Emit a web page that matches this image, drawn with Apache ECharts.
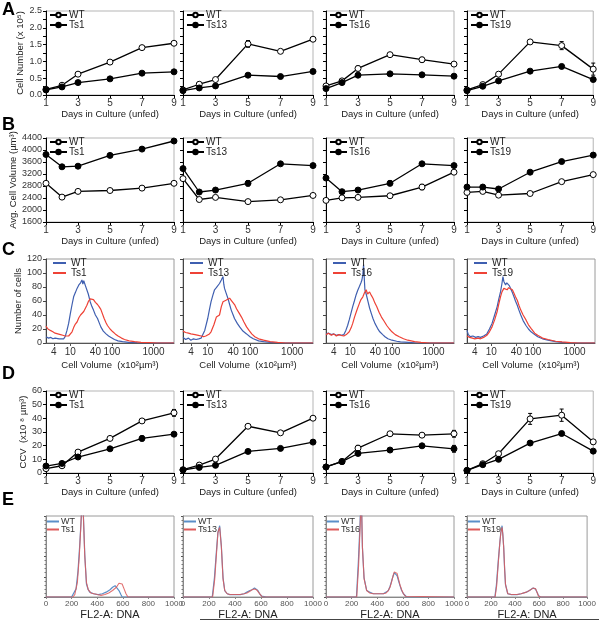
<!DOCTYPE html>
<html><head><meta charset="utf-8">
<script src="https://cdn.jsdelivr.net/npm/echarts@6/dist/echarts.min.js"></script>
<style>html,body{margin:0;padding:0;background:#fff}#c{width:599px;height:621px}</style>
</head><body><div id="c"></div>
<script>
// ---------- data ----------
const days = [1, 2, 3, 5, 7, 9];
const mutants = ['Ts1', 'Ts13', 'Ts16', 'Ts19'];
const dayTicks = [1, 3, 5, 7, 9];
const volumeTicks = [4, 10, 40, 100, 1000];

// A: cell number (x10^5)
const cellNumberWT = [
  [0.17, 0.29, 0.62, 0.98, 1.41, 1.54],
  [0.15, 0.32, 0.46, 1.52, 1.30, 1.66],
  [0.27, 0.42, 0.79, 1.20, 1.05, 0.92],
  [0.15, 0.31, 0.62, 1.58, 1.47, 0.77]];
const cellNumberTs = [
  [0.15, 0.24, 0.37, 0.48, 0.65, 0.69],
  [0.13, 0.21, 0.27, 0.59, 0.55, 0.70],
  [0.19, 0.37, 0.59, 0.63, 0.60, 0.56],
  [0.13, 0.26, 0.42, 0.71, 0.85, 0.46]];
const cellNumberErrWT = [[0,0,0,0.03,0.04,0.05],[0,0,0,0.10,0.03,0.06],[0,0,0.07,0.03,0.07,0.05],[0,0,0,0.03,0.12,0.18]];
const cellNumberErrTs = [[0,0,0,0,0.02,0.02],[0,0,0,0.03,0.03,0],[0,0,0,0,0,0],[0,0,0,0.03,0.03,0.02]];

// B: average cell volume (um^3)
const cellVolumeWT = [
  [2890, 2430, 2620, 2650, 2730, 2890],
  [3045, 2350, 2420, 2280, 2340, 2485],
  [2320, 2405, 2420, 2475, 2765, 3260],
  [2585, 2620, 2495, 2550, 2945, 3180]];
const cellVolumeTs = [
  [3850, 3440, 3460, 3820, 4030, 4300],
  [3380, 2600, 2665, 2890, 3540, 3480],
  [3065, 2610, 2665, 2890, 3540, 3480],
  [2765, 2765, 2700, 3260, 3615, 3830]];
const cellVolumeErrWT = [[0,0,0,0,0,50],[0,0,0,0,0,0],[0,0,0,0,90,60],[0,0,0,0,0,0]];
const cellVolumeErrTs = [[0,0,0,0,0,50],[0,0,0,90,0,0],[0,0,0,80,0,0],[0,0,0,0,0,0]];

// C: cell volume histograms [volume x10^2 um^3, number of cells]
const volHistWT = [
  [[2.6,9],[3,7],[3.4,8],[3.8,6],[4.3,7],[4.8,5],[5.4,6],[6,5],[6.9,6],[7.5,9],[8.3,18],[9.1,28],[10,42],[11,55],[12,66],[13.2,72],[14.5,78],[16,83],[17.6,86],[19,90],[20,84],[21,89],[23,82],[25,80],[27,70],[30,59],[33,52],[36,47],[40,40],[45,35],[50,28],[54,23],[62,17],[72,13],[83,10],[95,8],[115,5],[140,3],[180,2],[250,1],[400,0.5],[700,0],[3100,0]],
  [[2.6,8],[3,5],[3.5,7],[4,4],[4.6,6],[5.3,5],[6.1,6],[7,7],[7.5,8],[8.5,18],[10,35],[11,48],[12,59],[13.2,68],[14.5,76],[16,79],[17.6,81],[19,85],[21,90],[22,88],[23,95],[24,84],[25,78],[27,72],[30,64],[33,55],[36,47],[40,40],[43,35],[50,28],[57,23],[68,17],[83,13],[100,9],[120,6],[160,3],[210,2],[300,1],[500,0],[3100,0]],
  [[2.6,13],[3,14],[3.5,12],[4,13],[4.6,11],[5.3,12],[6,11],[6.5,10],[7,12],[7.8,18],[8.6,25],[9.4,33],[10.3,42],[11.4,52],[12.5,60],[13.8,69],[15,75],[16.6,81],[18,86],[19,90],[20,98],[20.8,112],[21.5,95],[22.4,76],[24,70],[26.6,59],[29,50],[32,42],[35,35],[39,28],[45,21],[51,16],[60,12],[68,9],[80,6],[100,4],[130,2.5],[160,1.5],[250,1],[400,0],[3100,0]],
  [[2.6,18],[2.8,12],[3.1,9],[3.6,10],[4.2,8],[4.8,9],[5.5,8],[6.5,10],[7.8,13],[9,20],[10.4,28],[12,40],[13.8,52],[15,62],[16.6,73],[18,85],[19,95],[20,88],[22,83],[23.5,86],[25,88],[27,82],[29,78],[32,72],[35,66],[38,60],[42,54],[46,47],[51,40],[58,32],[68,25],[78,20],[90,16],[110,12],[130,9],[170,6],[230,4],[350,2],[500,1],[800,0],[3100,0]]];
const volHistTs = [
  [[2.6,24],[2.9,20],[3.3,18],[3.8,16],[4.3,14],[5,13],[5.8,12],[6.6,11],[7.5,10],[8.3,9],[9.1,10],[10,11],[11,16],[12,22],[13.2,27],[14.5,30],[16,36],[17.6,40],[19,42],[21,45],[23,46],[25,54],[27,59],[30,63],[33,61],[36,62],[40,58],[45,55],[49,52],[54,48],[59,47],[65,35],[72,29],[78,25],[90,20],[105,16],[120,13],[140,10],[170,7],[200,5],[260,3],[350,2],[500,1],[800,0.5],[1200,0],[3100,0]],
  [[2.6,17],[3,15],[3.5,14],[4,13],[5,12],[6,11],[7,10],[8,9],[9,10],[10,11],[11,13],[12,16],[14,26],[16,37],[17.6,38],[19,40],[21,52],[23,59],[25,58],[27,61],[30,62],[33,64],[36,61],[40,59],[44,54],[48,49],[55,43],[63,37],[72,30],[83,23],[95,18],[110,13],[130,9],[160,6],[210,4],[300,2],[450,1],[700,0],[3100,0]],
  [[2.6,12],[3,14],[3.5,11],[4,13],[4.6,10],[5.3,12],[6,11],[7,10],[8,12],[9.4,16],[10.5,22],[11.4,28],[12.6,37],[14,45],[15,50],[16.6,57],[18,62],[20,66],[22,72],[24,76],[26,70],[29,73],[32,68],[35,64],[39,57],[43,52],[49,44],[56,37],[65,31],[75,25],[87,20],[100,16],[120,12],[150,9],[190,6],[240,4],[350,2],[500,1],[800,0],[3100,0]],
  [[2.6,10],[3,8],[3.5,7],[4,6],[4.8,7],[5.5,6],[6.5,8],[7.8,11],[9,16],[10.4,23],[12,33],[13.8,45],[15,55],[16.6,66],[18,73],[20,78],[22,77],[24,76],[26,79],[29,81],[32,76],[35,71],[38,66],[42,61],[46,54],[51,47],[58,40],[68,33],[78,26],[90,21],[110,14],[130,11],[170,7],[230,5],[350,2.5],[500,1.5],[800,0.5],[1200,0],[3100,0]]];

// D: CCV (x10^8 um^3)
const ccvWT = [
  [3.2, 5.3, 15.3, 25.3, 38.1, 44.0],
  [2.4, 5.8, 10.2, 34.2, 29.4, 40.1],
  [4.4, 8.5, 18.2, 28.7, 27.7, 28.7],
  [1.9, 6.8, 14.1, 39.6, 42.3, 22.8]];
const ccvTs = [
  [5.1, 7.0, 11.7, 17.7, 25.3, 28.4],
  [2.2, 4.1, 5.6, 15.8, 18.0, 22.6],
  [4.4, 8.3, 14.3, 16.8, 19.9, 17.7],
  [1.9, 6.1, 10.0, 21.9, 28.9, 16.0]];
const ccvErrWT = [[0,0,0,0,0,2.5],[0,0,0,0,0,0],[0,0,2.0,0,0,2.5],[0,0,0,4.0,4.5,1.5]];
const ccvErrTs = [[0,0,0,0,1.8,0],[0,0,0,0,0,0],[0,0,0,0,0,2.5],[0,0,0,1.5,1.5,0]];

// E: DNA content histograms [FL2-A, count]
const dnaHistWT = [
  [[0,0],[200,0],[215,2],[235,10],[250,32],[263,63],[276,99],[284,125],[290,110],[303,52],[316,16],[330,9],[342,6],[370,4],[408,3],[440,4],[470,6],[500,9],[520,12],[540,14],[555,12],[570,8],[585,3],[595,0],[1000,0]],
  [[0,0],[225,0],[242,24],[255,52],[268,79],[282,88],[295,63],[308,24],[321,8],[340,4],[360,3],[400,3],[440,3],[470,4],[492,6],[515,8],[531,9],[550,11],[565,10],[576,8],[590,4],[605,1],[640,0],[1000,0]],
  [[0,0],[238,0],[253,44],[266,91],[272,120],[278,110],[284,63],[297,24],[318,8],[340,6],[370,4],[410,4],[448,4],[470,6],[487,8],[500,13],[513,20],[525,26],[534,30],[547,29],[556,26],[565,21],[578,14],[591,8],[605,4],[617,2],[630,0],[1000,0]],
  [[0,0],[232,0],[245,15],[260,44],[272,65],[281,79],[292,88],[298,78],[305,63],[313,35],[320,16],[339,4],[370,3],[417,3],[450,4],[495,6],[520,8],[534,10],[550,11],[560,12],[570,10],[578,8],[586,5],[594,2],[612,0],[1000,0]]];
const dnaHistTs = [
  [[0,0],[210,0],[225,3],[245,18],[260,50],[273,90],[282,125],[292,100],[303,50],[316,18],[330,9],[350,5],[400,3],[430,2],[460,3],[490,5],[520,8],[550,12],[570,17],[580,19],[595,16],[610,10],[625,4],[640,0],[1000,0]],
  [[0,0],[228,0],[244,22],[256,50],[269,80],[282,86],[295,62],[308,22],[321,8],[340,4],[360,3],[400,3],[440,3],[470,4],[492,5],[515,7],[531,9],[548,10],[565,9],[580,7],[595,3],[610,0],[1000,0]],
  [[0,0],[240,0],[255,40],[267,88],[273,118],[279,105],[285,60],[298,22],[318,8],[340,5],[370,4],[410,4],[448,4],[470,5],[487,8],[500,12],[513,19],[525,27],[534,31],[547,32],[556,29],[565,23],[578,15],[591,9],[605,4],[620,1],[635,0],[1000,0]],
  [[0,0],[234,0],[247,14],[261,43],[273,66],[282,80],[292,86],[298,77],[306,60],[314,33],[321,15],[340,4],[370,3],[417,3],[450,4],[495,6],[520,8],[534,10],[550,11],[562,12],[572,10],[580,7],[588,4],[596,1],[615,0],[1000,0]]];

// ---------- layout & build ----------
const FONT = '"Liberation Sans",Arial,sans-serif';
const colLeft = [46, 183, 326, 467], colW = [128, 130, 128, 128];
const rowTop = [11, 138, 259, 391, 516], rowH = [84, 84, 84, 82, 84];
const grid = [], xAxis = [], yAxis = [], series = [], legend = [];

const lineRows = {
  0: {wt: cellNumberWT, ts: cellNumberTs, ewt: cellNumberErrWT, ets: cellNumberErrTs, min: 0, max: 2.5, interval: 0.5, minor: true, fmt: v => v.toFixed(1), name: 'Cell Number (x 10\u2075)', gap: 17},
  1: {wt: cellVolumeWT, ts: cellVolumeTs, ewt: cellVolumeErrWT, ets: cellVolumeErrTs, min: 1600, max: 4400, interval: 400, minor: false, fmt: v => String(v), name: 'Avg. Cell Volume (\u00b5m\u00b3)', gap: 25},
  3: {wt: ccvWT, ts: ccvTs, ewt: ccvErrWT, ets: ccvErrTs, min: 0, max: 60, interval: 10, minor: false, fmt: v => String(v), name: 'CCV  (x10 \u2078 \u00b5m\u00b3)', gap: 17}
};

function errItem(params, api) {
  const x = api.value(0), y = api.value(1), e = api.value(2);
  const a = api.coord([x, y + e]), b = api.coord([x, y - e]);
  const st = {stroke: '#000', lineWidth: 1};
  return {type: 'group', children: [
    {type: 'line', shape: {x1: a[0], y1: a[1], x2: b[0], y2: b[1]}, style: st},
    {type: 'line', shape: {x1: a[0] - 2, y1: a[1], x2: a[0] + 2, y2: a[1]}, style: st},
    {type: 'line', shape: {x1: b[0] - 2, y1: b[1], x2: b[0] + 2, y2: b[1]}, style: st}]};
}

const tickLbl = {fontFamily: FONT, fontSize: 10, color: '#333'};
const nameSt = {fontFamily: FONT, fontSize: 9.5, color: '#222'};

for (let r = 0; r < 5; r++) {
  for (let c = 0; c < 4; c++) {
    const gi = grid.length, key = '|' + r + '-' + c;
    grid.push({left: colLeft[c], top: rowTop[r], width: colW[c], height: rowH[r],
      show: true, borderColor: r >= 2 && r !== 3 ? '#9a9a9a' : '#b5b5b5', borderWidth: 1, containLabel: false});
    const wtName = 'WT' + key, tsName = mutants[c] + key;
    if (lineRows[r]) {
      const L = lineRows[r];
      xAxis.push({gridIndex: gi, type: 'value', min: 1, max: 9, interval: 2,
        axisLine: {lineStyle: {color: '#000', width: 1}}, axisTick: {length: 3, lineStyle: {color: '#000'}},
        axisLabel: Object.assign({margin: 3}, tickLbl), splitLine: {show: false},
        name: 'Days in Culture (unfed)', nameLocation: 'middle', nameGap: 14, nameTextStyle: nameSt});
      yAxis.push({gridIndex: gi, type: 'value', min: L.min, max: L.max, interval: L.interval,
        axisLine: {show: true, lineStyle: {color: '#000', width: 1}}, axisTick: {show: true, length: 3, lineStyle: {color: '#000'}},
        minorTick: {show: L.minor, splitNumber: 2, length: 3, lineStyle: {color: '#000'}},
        axisLabel: Object.assign({show: c === 0, margin: 4, formatter: L.fmt}, tickLbl, {fontSize: 9}), splitLine: {show: false},
        name: c === 0 ? L.name : '', nameLocation: 'middle', nameGap: L.gap, nameTextStyle: nameSt});
      series.push({type: 'custom', name: 'errWT' + key, xAxisIndex: gi, yAxisIndex: gi, z: 1, renderItem: errItem,
        encode: {x: 0, y: 1}, data: days.map((d, i) => [d, L.wt[c][i], L.ewt[c][i]]).filter(p => p[2] > 0)});
      series.push({type: 'custom', name: 'errTs' + key, xAxisIndex: gi, yAxisIndex: gi, z: 1, renderItem: errItem,
        encode: {x: 0, y: 1}, data: days.map((d, i) => [d, L.ts[c][i], L.ets[c][i]]).filter(p => p[2] > 0)});
      series.push({type: 'line', name: wtName, xAxisIndex: gi, yAxisIndex: gi, z: 3,
        data: days.map((d, i) => [d, L.wt[c][i]]), symbol: 'circle', symbolSize: 6,
        lineStyle: {color: '#000', width: 1.3}, itemStyle: {color: '#fff', borderColor: '#000', borderWidth: 1}});
      series.push({type: 'line', name: tsName, xAxisIndex: gi, yAxisIndex: gi, z: 4,
        data: days.map((d, i) => [d, L.ts[c][i]]), symbol: 'circle', symbolSize: 6,
        lineStyle: {color: '#000', width: 1.3}, itemStyle: {color: '#000', borderColor: '#000', borderWidth: 1}});
      legend.push({data: [wtName, tsName], left: colLeft[c] + 3, top: rowTop[r] - 1, orient: 'vertical',
        itemWidth: 17, itemHeight: 5.5, itemGap: 0, padding: 0, selectedMode: false,
        formatter: n => n.split('|')[0], textStyle: {fontFamily: FONT, fontSize: 10, color: '#222', padding: [0, 0, 0, -3]}});
    } else if (r === 2) {
      xAxis.push({gridIndex: gi, type: 'log', logBase: 10, min: 2.6, max: 3100,
        axisLine: {lineStyle: {color: '#555'}}, axisTick: {length: 3, customValues: volumeTicks, lineStyle: {color: '#555'}},
        axisLabel: Object.assign({margin: 4, customValues: volumeTicks, formatter: v => String(Math.round(v))}, tickLbl), splitLine: {show: false}, minorTick: {show: false},
        name: 'Cell Volume  (x10\u00b2\u00b5m\u00b3)', nameLocation: 'middle', nameGap: 17, nameTextStyle: nameSt});
      yAxis.push({gridIndex: gi, type: 'value', min: 0, max: 120, interval: 20,
        axisLine: {show: true, lineStyle: {color: '#444'}}, axisTick: {show: true, length: 3, lineStyle: {color: '#444'}},
        axisLabel: Object.assign({show: c === 0, margin: 4}, tickLbl, {fontSize: 9}), splitLine: {show: false},
        name: c === 0 ? 'Number of cells' : '', nameLocation: 'middle', nameGap: 21, nameTextStyle: nameSt});
      series.push({type: 'line', name: wtName, xAxisIndex: gi, yAxisIndex: gi, z: 3, symbol: 'none',
        data: volHistWT[c], lineStyle: {color: '#3f5fb0', width: 1.2}, itemStyle: {color: '#3f5fb0'}});
      series.push({type: 'line', name: tsName, xAxisIndex: gi, yAxisIndex: gi, z: 4, symbol: 'none',
        data: volHistTs[c], lineStyle: {color: '#ee4236', width: 1.2}, itemStyle: {color: '#ee4236'}});
      legend.push({data: [{name: wtName, icon: 'rect'}, {name: tsName, icon: 'rect'}], left: colLeft[c] + 7, top: rowTop[r] - 1, orient: 'vertical',
        itemWidth: 13, itemHeight: 2, itemGap: 0, padding: 0, selectedMode: false,
        formatter: n => n.split('|')[0], textStyle: {fontFamily: FONT, fontSize: 10, color: '#222'}});
    } else {
      xAxis.push({gridIndex: gi, type: 'value', min: 0, max: 1000, interval: 200,
        axisLine: {lineStyle: {color: '#888'}}, axisTick: {length: 2, lineStyle: {color: '#888'}},
        axisLabel: Object.assign({}, tickLbl, {margin: 3, fontSize: 8, color: '#555', formatter: v => String(v)}), splitLine: {show: false},
        name: 'FL2-A: DNA', nameLocation: 'middle', nameGap: 12, nameTextStyle: Object.assign({}, nameSt, {fontSize: 11})});
      yAxis.push({gridIndex: gi, type: 'value', min: 0, max: 100, interval: 25,
        axisLine: {show: true, lineStyle: {color: '#888'}}, axisTick: {show: true, length: 2, lineStyle: {color: '#555'}},
        minorTick: {show: true, splitNumber: 5, length: 1.5, lineStyle: {color: '#777'}},
        axisLabel: {show: false}, splitLine: {show: false}});
      series.push({type: 'line', name: wtName, xAxisIndex: gi, yAxisIndex: gi, z: 3, symbol: 'none',
        data: dnaHistWT[c], lineStyle: {color: '#5a8fc8', width: 1.2}, itemStyle: {color: '#5a8fc8'}});
      series.push({type: 'line', name: tsName, xAxisIndex: gi, yAxisIndex: gi, z: 4, symbol: 'none',
        data: dnaHistTs[c], lineStyle: {color: '#dd5a5a', width: 1.1, opacity: 0.85}, itemStyle: {color: '#dd5a5a'}});
      legend.push({data: [{name: wtName, icon: 'rect'}, {name: tsName, icon: 'rect'}], left: colLeft[c] + 1, top: rowTop[r] + 1, orient: 'vertical',
        itemWidth: 12, itemHeight: 2, itemGap: -1, padding: 0, selectedMode: false,
        formatter: n => n.split('|')[0], textStyle: {fontFamily: FONT, fontSize: 9, color: '#333', padding: [0, 0, 0, -3]}});
    }
  }
}

const letters = [['A', 1], ['B', 116], ['C', 241], ['D', 365], ['E', 491]];
const graphic = letters.map(([t, y]) => ({type: 'text', left: 2, top: y,
  style: {text: t, font: 'bold 18px "Liberation Sans", Arial, sans-serif', fill: '#000'}}));
graphic.push({type: 'line', shape: {x1: 200, y1: 619.5, x2: 599, y2: 619.5}, style: {stroke: '#444', lineWidth: 1}});

const chart = echarts.init(document.getElementById('c'), null, {renderer: 'canvas'});
chart.setOption({animation: false, backgroundColor: '#fff', grid, xAxis, yAxis, series, legend, graphic});
</script></body></html>
